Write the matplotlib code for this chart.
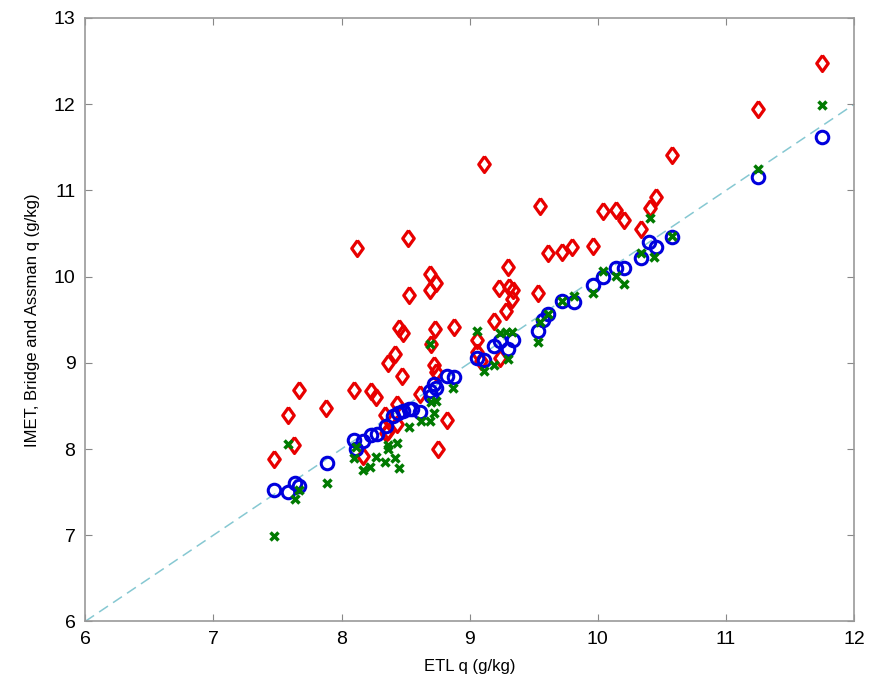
import matplotlib.pyplot as plt
import numpy as np

plt.rcParams['font.family'] = ['Liberation Sans', 'DejaVu Sans']

# IMET (red diamonds)
imet_x = [7.47, 7.58, 7.63, 7.67, 7.88, 8.10, 8.12, 8.17, 8.23, 8.27, 8.34, 8.35, 8.36, 8.36,
          8.42, 8.43, 8.43, 8.45, 8.48, 8.47, 8.52, 8.53, 8.61, 8.69, 8.74, 8.69, 8.70, 8.73,
          8.72, 8.74, 8.75, 8.82, 8.88, 9.06, 9.06, 9.09, 9.11, 9.19, 9.23, 9.24, 9.28, 9.30,
          9.31, 9.34, 9.33, 9.53, 9.55, 9.61, 9.72, 9.80, 9.96, 10.04, 10.14, 10.20, 10.34,
          10.41, 10.45, 10.58, 11.25, 11.75]
imet_y = [7.88, 8.39, 8.05, 8.69, 8.47, 8.69, 10.33, 7.92, 8.67, 8.60, 8.40, 8.19, 9.00, 8.21,
          9.10, 8.52, 8.29, 9.40, 9.35, 8.85, 10.45, 9.79, 8.64, 10.03, 9.93, 9.84, 9.22, 9.39,
          8.97, 8.89, 8.00, 8.34, 9.42, 9.26, 9.12, 9.02, 11.31, 9.48, 9.87, 9.06, 9.60, 10.11,
          9.88, 9.85, 9.74, 9.81, 10.82, 10.27, 10.29, 10.34, 10.35, 10.76, 10.77, 10.66, 10.55,
          10.80, 10.92, 11.41, 11.95, 12.48]

# Bridge (blue circles)
bridge_x = [7.47, 7.58, 7.64, 7.67, 7.89, 8.10, 8.11, 8.17, 8.23, 8.28, 8.35, 8.40, 8.44, 8.48,
            8.53, 8.55, 8.61, 8.69, 8.70, 8.72, 8.74, 8.82, 8.88, 9.06, 9.11, 9.19, 9.24, 9.30,
            9.34, 9.53, 9.57, 9.61, 9.72, 9.81, 9.96, 10.04, 10.14, 10.20, 10.34, 10.40, 10.45,
            10.58, 11.25, 11.75]
bridge_y = [7.53, 7.50, 7.61, 7.57, 7.84, 8.11, 8.00, 8.09, 8.16, 8.17, 8.27, 8.38, 8.42, 8.44,
            8.46, 8.46, 8.43, 8.67, 8.62, 8.75, 8.71, 8.85, 8.83, 9.06, 9.03, 9.19, 9.25, 9.16,
            9.26, 9.37, 9.50, 9.57, 9.72, 9.71, 9.90, 9.99, 10.10, 10.10, 10.21, 10.40, 10.34,
            10.46, 11.15, 11.62]

# Assman (green crosses)
assman_x = [7.47, 7.58, 7.64, 7.67, 7.89, 8.10, 8.11, 8.17, 8.22, 8.27, 8.34, 8.36, 8.36, 8.43,
            8.42, 8.45, 8.53, 8.62, 8.69, 8.72, 8.70, 8.74, 8.69, 8.87, 9.06, 9.11, 9.19, 9.24,
            9.28, 9.33, 9.30, 9.53, 9.55, 9.61, 9.72, 9.81, 9.96, 10.04, 10.14, 10.20, 10.34,
            10.41, 10.44, 10.58, 11.25, 11.75]
assman_y = [6.99, 8.06, 7.42, 7.52, 7.60, 7.89, 8.02, 7.76, 7.79, 7.91, 7.85, 8.00, 8.05, 8.07,
            7.89, 7.78, 8.25, 8.33, 8.33, 8.42, 8.54, 8.56, 9.22, 8.71, 9.37, 8.91, 8.97, 9.35,
            9.36, 9.36, 9.04, 9.24, 9.47, 9.57, 9.72, 9.78, 9.81, 10.07, 10.01, 9.91, 10.27,
            10.68, 10.23, 10.47, 11.25, 11.99]

# matlab-like diamond, a bit wider than matplotlib's 'd'
diamond = [(0, 1), (0.72, 0), (0, -1), (-0.72, 0), (0, 1)]

fig = plt.figure(figsize=(8.69, 6.92), dpi=100)
ax = fig.add_axes([0.098, 0.102, 0.885, 0.872])

ax.plot([6, 12], [6, 12], linestyle=(0, (7, 4)), color='#86c8d2', linewidth=1.1, zorder=1)
ax.plot(imet_x, imet_y, linestyle='none', marker=diamond, markersize=11.5, markerfacecolor='none',
        markeredgecolor='#e80000', markeredgewidth=2.3, zorder=2)
ax.plot(bridge_x, bridge_y, linestyle='none', marker='o', markersize=9, markerfacecolor='none',
        markeredgecolor='#0000dd', markeredgewidth=2.2, zorder=3)
ax.plot(assman_x, assman_y, linestyle='none', marker='x', markersize=6,
        markeredgecolor='#007a00', markeredgewidth=2.5, zorder=4)

ax.set_xlim(6, 12)
ax.set_ylim(6, 13)
ax.set_xticks(np.arange(6, 13, 1))
ax.set_yticks(np.arange(6, 14, 1))
ax.tick_params(direction='in', length=5, width=0.8, color='#888888', labelsize=14,
               top=True, right=True, pad=7)
for sp in ax.spines.values():
    sp.set_color('#999999')
    sp.set_linewidth(1.2)

ax.set_xlabel('ETL q (g/kg)', fontsize=12, labelpad=8)
ax.set_ylabel('IMET, Bridge and Assman q (g/kg)', fontsize=12, labelpad=10)

fig.savefig('out.png', dpi=100)
